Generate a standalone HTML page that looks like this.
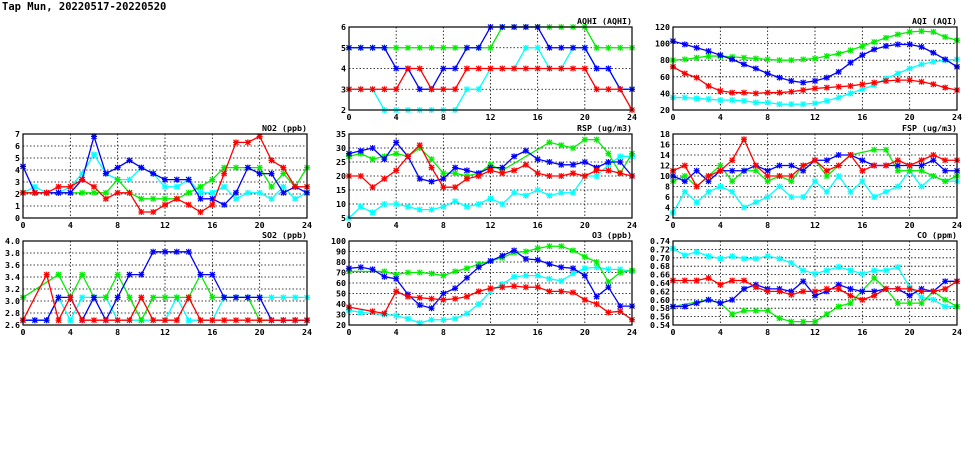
<!DOCTYPE html>
<html><head><meta charset="utf-8"><style>
body{margin:0;background:#fff;}
svg text{font-family:"DejaVu Sans Mono","Liberation Mono",monospace;font-weight:bold;font-size:8.3px;fill:#000;}
</style></head><body>
<svg id="s" width="975" height="447" xmlns="http://www.w3.org/2000/svg">
<text x="2" y="10" style="font-size:10.5px">Tap Mun, 20220517-20220520</text>
</svg>
<script>
const N=null;
const C={b:"#0000ff",g:"#00ee00",c:"#00ffff",r:"#ff0000"};
const charts=[
{t:"NO2 (ppb)",x0:23,x1:307,y0:134,y1:218,min:0,max:7,step:1,dec:0,s:{
c:[2.1,2.6,2.1,2.1,2.6,3.7,5.3,3.7,3.2,3.2,4.2,3.7,2.6,2.6,3.2,2.1,2.1,2.6,1.6,2.1,2.1,1.6,2.6,1.6,2.1],
g:[2.1,2.1,2.1,2.1,2.1,2.1,2.1,2.1,3.2,2.1,1.6,1.6,1.6,1.6,2.1,2.6,3.2,4.2,4.2,4.2,4.2,2.6,3.7,2.6,4.2],
b:[4.3,2.1,2.1,2.1,2.1,3.2,6.8,3.7,4.2,4.8,4.2,3.7,3.2,3.2,3.2,1.6,1.6,1.1,2.1,4.2,3.7,3.7,2.1,2.6,2.1],
r:[2.1,2.1,2.1,2.6,2.6,3.2,2.6,1.6,2.1,2.1,0.5,0.5,1.1,1.6,1.1,0.5,1.1,3.7,6.3,6.3,6.8,4.8,4.2,2.6,2.6]}},
{t:"SO2 (ppb)",x0:23,x1:307,y0:241,y1:325,min:2.6,max:4.0,step:0.2,dec:1,s:{
c:[2.68,2.68,2.68,3.06,2.68,3.06,3.06,3.06,2.68,2.68,2.68,2.68,2.68,3.06,2.68,2.68,2.68,3.06,3.06,3.06,3.06,3.06,3.06,3.06,3.06],
g:[3.06,N,N,3.44,3.06,3.44,3.06,3.06,3.44,3.06,2.68,3.06,3.06,3.06,3.06,3.44,3.06,3.06,3.06,3.06,2.68,2.68,2.68,2.68,2.68],
b:[2.68,2.68,2.68,3.06,3.06,2.68,3.06,2.68,3.06,3.44,3.44,3.82,3.82,3.82,3.82,3.44,3.44,3.06,3.06,3.06,3.06,2.68,2.68,2.68,2.68],
r:[2.68,N,3.44,2.68,3.06,2.68,2.68,2.68,2.68,2.68,3.06,2.68,2.68,2.68,3.06,2.68,2.68,2.68,2.68,2.68,2.68,2.68,2.68,2.68,2.68]}},
{t:"AQHI (AQHI)",x0:349,x1:632,y0:27,y1:110,min:2,max:6,step:1,dec:0,s:{
c:[3,3,3,2,2,2,2,2,2,2,3,3,4,4,4,5,5,4,4,5,5,4,4,3,3],
g:[5,5,5,5,5,5,5,5,5,5,5,5,5,6,6,6,6,6,6,6,6,5,5,5,5],
b:[5,5,5,5,4,4,3,3,4,4,5,5,6,6,6,6,6,5,5,5,5,4,4,3,3],
r:[3,3,3,3,3,4,4,3,3,3,4,4,4,4,4,4,4,4,4,4,4,3,3,3,2]}},
{t:"RSP (ug/m3)",x0:349,x1:632,y0:134,y1:218,min:5,max:35,step:5,dec:0,s:{
c:[5,9,7,10,10,9,8,8,9,11,9,10,12,10,14,13,15,13,14,14,20,20,24,27,27],
g:[27,28,26,27,28,27,30,26,21,21,20,21,24,22,N,N,N,32,31,30,33,33,28,21,28],
b:[28,29,30,26,32,27,19,18,19,23,22,21,23,23,27,29,26,25,24,24,25,23,25,25,20],
r:[20,20,16,19,22,27,31,23,16,16,19,20,22,21,22,24,21,20,20,21,20,22,22,21,20]}},
{t:"O3 (ppb)",x0:349,x1:632,y0:241,y1:325,min:20,max:100,step:10,dec:0,s:{
c:[34,32,N,30,29,26,22,25,25,26,31,40,52,59,66,67,67,64,62,69,74,75,73,73,71],
g:[71,N,N,71,68,70,70,69,67,71,74,78,81,84,89,90,93,95,95,91,85,80,61,70,72],
b:[74,75,73,66,64,49,39,36,50,55,65,75,81,86,91,83,82,78,75,74,67,47,56,38,38],
r:[37,N,33,31,52,47,46,45,44,45,47,52,55,56,57,56,56,52,52,51,44,40,32,33,25]}},
{t:"AQI (AQI)",x0:673,x1:957,y0:27,y1:110,min:20,max:120,step:20,dec:0,s:{
c:[35,35,34,33,32,32,31,29,29,27,27,27,28,31,35,40,45,50,58,64,70,75,78,80,81],
g:[80,81,83,85,85,84,83,82,81,80,80,81,82,85,88,92,97,102,107,111,114,115,114,108,104],
b:[103,99,95,91,86,81,75,70,64,59,55,53,55,59,66,77,86,93,97,99,99,96,89,81,72],
r:[72,64,59,49,43,41,41,40,41,41,42,44,46,47,48,49,51,53,55,56,56,54,51,47,44]}},
{t:"FSP (ug/m3)",x0:673,x1:957,y0:134,y1:218,min:2,max:18,step:2,dec:0,s:{
c:[3,7,5,7,8,7,4,5,6,8,6,6,9,7,10,7,9,6,7,8,11,8,10,9,9],
g:[9,10,8,10,12,9,11,11,9,10,9,12,13,10,N,14,N,15,15,11,11,11,10,9,10],
b:[10,9,11,9,11,11,11,12,11,12,12,11,13,13,14,14,13,12,12,12,12,12,13,11,11],
r:[11,12,8,10,11,13,17,12,10,10,10,12,13,11,12,14,11,12,12,13,12,13,14,13,13]}},
{t:"CO (ppm)",x0:673,x1:957,y0:241,y1:325,min:0.54,max:0.74,step:0.02,dec:2,s:{
c:[.722,.706,.714,.704,.698,.704,.698,.698,.704,.698,.688,.670,.662,.670,.678,.670,.662,.670,.670,.678,.630,.606,.600,.584,.584],
g:[.584,N,N,.600,.592,.566,.574,.574,.574,.556,.548,.548,.548,.566,.584,.592,N,.652,.626,.592,.592,.592,.620,.600,.584],
b:[.584,.584,.592,.600,.592,.600,.626,.636,.626,.626,.620,.644,.610,.620,.636,.626,.620,.620,.626,.626,.610,.626,.620,.644,.644],
r:[.646,.646,.646,.652,.636,.646,.646,.630,.620,.620,.612,.620,.620,.626,.626,.610,.600,.610,.626,.626,.626,.620,.620,.626,.644]}}
];
let h='';
for(const c of charts){
 const X=i=>c.x0+(c.x1-c.x0)*i/24, Y=v=>c.y1-(c.y1-c.y0)*(v-c.min)/(c.max-c.min);
 const n=Math.round((c.max-c.min)/c.step);
 for(let k=0;k<=n;k++){const v=c.min+k*c.step,y=Y(v);
  if(k>0&&k<n)h+=`<line x1="${c.x0}" x2="${c.x1}" y1="${y}" y2="${y}" stroke="#000" stroke-width="0.8" stroke-dasharray="1.5,2"/>`;
  h+=`<text x="${c.x0-3}" y="${y+3}" text-anchor="end">${v.toFixed(c.dec)}</text>`;}
 for(let i=0;i<=24;i+=4){const x=X(i);
  if(i>0&&i<24)h+=`<line x1="${x}" x2="${x}" y1="${c.y0}" y2="${c.y1}" stroke="#000" stroke-width="0.8" stroke-dasharray="1.5,2"/>`;
  h+=`<text x="${x}" y="${c.y1+10}" text-anchor="middle">${i}</text>`;}
 h+=`<text x="${c.x1}" y="${c.y0-3}" text-anchor="end">${c.t}</text>`;
 for(const k of ["c","g","b","r"]){
  const pts=[];c.s[k].forEach((v,i)=>{if(v!==null)pts.push([X(i),Y(v)]);});
  h+=`<polyline fill="none" stroke="${C[k]}" stroke-width="1.3" points="${pts.map(p=>p.join(',')).join(' ')}"/>`;
  let d='';for(const [x,y] of pts){d+=`M${x-2.5},${y-2.5}L${x+2.5},${y+2.5}M${x-2.5},${y+2.5}L${x+2.5},${y-2.5}M${x-3},${y}L${x+3},${y}M${x},${y-3}L${x},${y+3}`;}
  h+=`<path d="${d}" stroke="${C[k]}" stroke-width="1.2" fill="none"/>`;}
 h+=`<rect x="${c.x0}" y="${c.y0}" width="${c.x1-c.x0}" height="${c.y1-c.y0}" fill="none" stroke="#000" stroke-width="1.2"/>`;
}
document.getElementById('s').insertAdjacentHTML('beforeend',h);
</script>
</body></html>
